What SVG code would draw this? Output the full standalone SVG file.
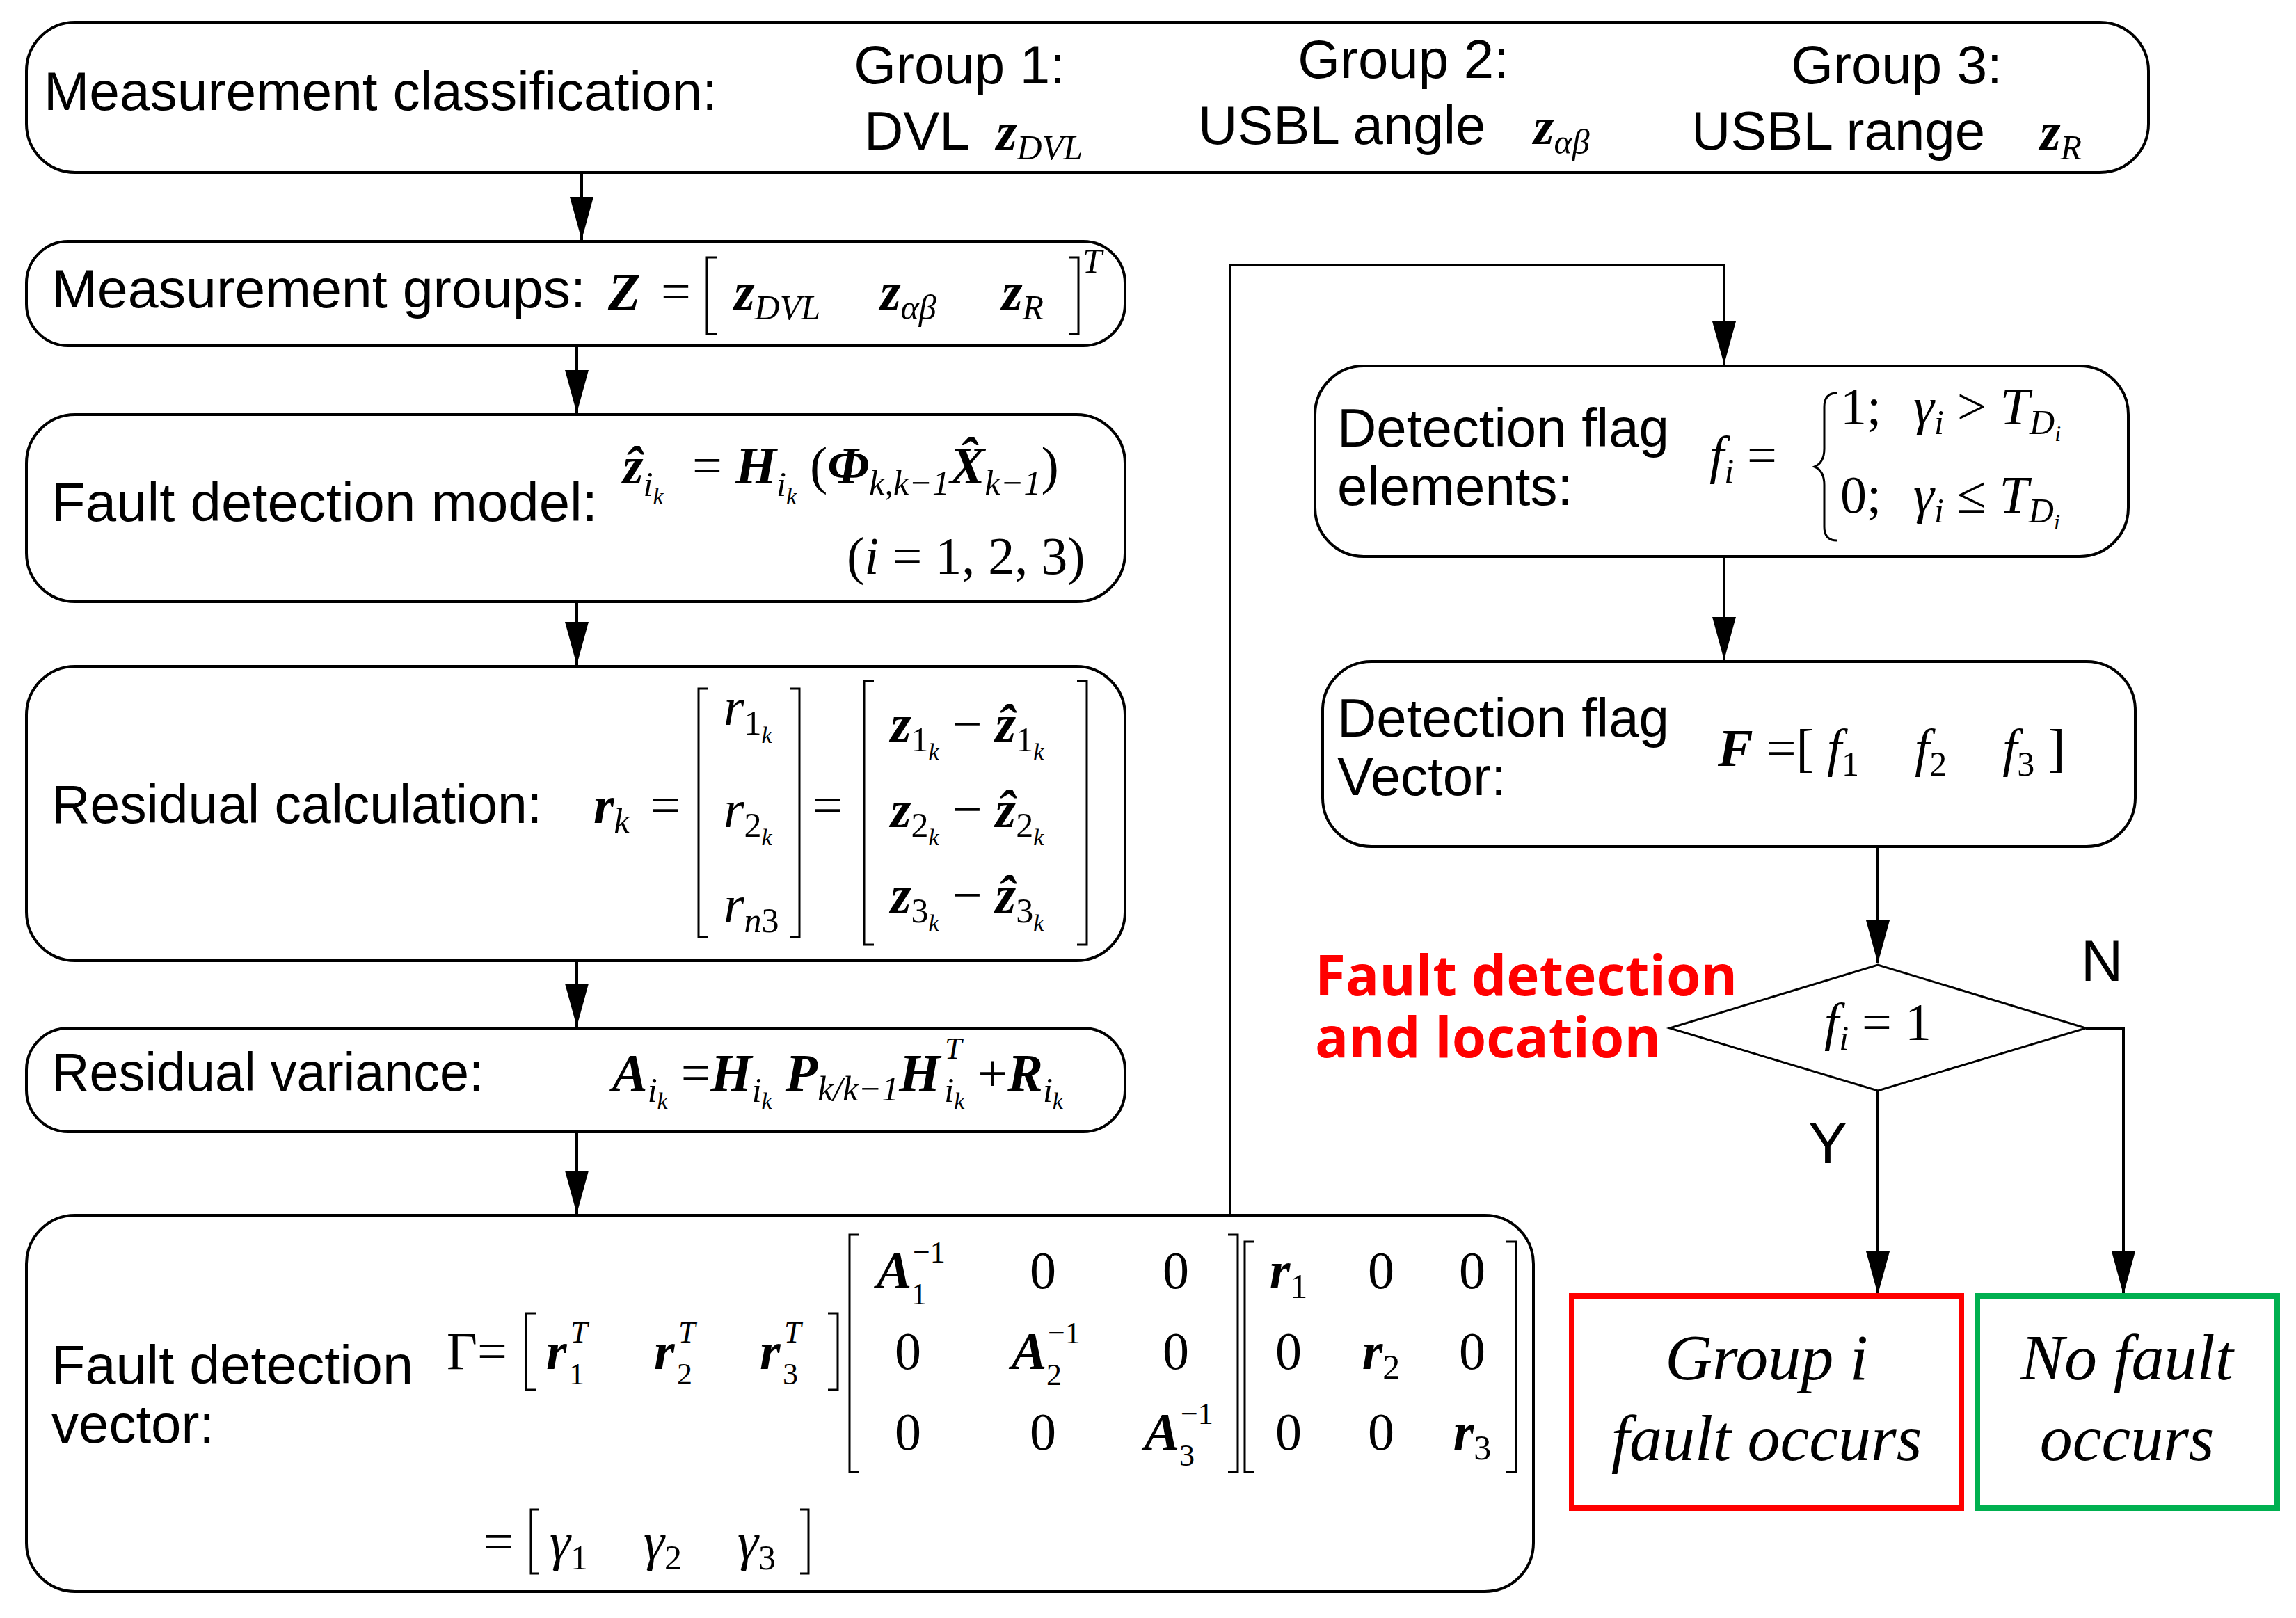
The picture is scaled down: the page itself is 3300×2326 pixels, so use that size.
<svg xmlns="http://www.w3.org/2000/svg" width="3300" height="2326" viewBox="0 0 3300 2326">
<style>
.box{fill:#fff;stroke:#000;stroke-width:4}
.t{font-family:"Liberation Sans",Arial,sans-serif;font-size:78px;fill:#000}
.m{font-family:"Liberation Serif","Times New Roman",serif;font-size:76px;fill:#000}
.mb{font-family:"Liberation Serif","Times New Roman",serif;font-size:76px;font-style:italic;font-weight:bold}
.mi{font-style:italic}
.s{font-size:50px}
.ss{font-family:"Liberation Serif","Times New Roman",serif;font-size:44px}
.br{fill:none;stroke:#000;stroke-width:3}
.ln{fill:none;stroke:#000;stroke-width:4}
.lbl{font-family:"Liberation Sans",Arial,sans-serif;font-size:84px}
.res{font-family:"Liberation Serif","Times New Roman",serif;font-style:italic;font-size:94px;text-anchor:middle}
</style>
<rect width="3300" height="2326" fill="#fff"/>

<g id="connectors">
<line class="ln" x1="836" y1="248" x2="836" y2="345"/>
<line class="ln" x1="829" y1="497" x2="829" y2="594"/>
<line class="ln" x1="829" y1="865" x2="829" y2="956"/>
<line class="ln" x1="829" y1="1381" x2="829" y2="1476"/>
<line class="ln" x1="829" y1="1627" x2="829" y2="1745"/>
<polyline class="ln" points="1768,1747 1768,381 2478,381 2478,524"/>
<line class="ln" x1="2478" y1="800" x2="2478" y2="949"/>
<line class="ln" x1="2699" y1="1217" x2="2699" y2="1385"/>
<polyline class="ln" points="2998,1478 3052,1478 3052,1861"/>
<line class="ln" x1="2699" y1="1568" x2="2699" y2="1861"/>
<g fill="#000">
<path d="M819,283 L853,283 L836,345 Z"/>
<path d="M812,532 L846,532 L829,594 Z"/>
<path d="M812,894 L846,894 L829,956 Z"/>
<path d="M812,1414 L846,1414 L829,1476 Z"/>
<path d="M812,1683 L846,1683 L829,1745 Z"/>
<path d="M2461,462 L2495,462 L2478,524 Z"/>
<path d="M2461,887 L2495,887 L2478,949 Z"/>
<path d="M2682,1323 L2716,1323 L2699,1385 Z"/>
<path d="M2682,1799 L2716,1799 L2699,1861 Z"/>
<path d="M3035,1799 L3069,1799 L3052,1861 Z"/>
</g>
<text class="lbl" x="3021" y="1410" text-anchor="middle">N</text>
<text class="lbl" x="2627" y="1672" text-anchor="middle">Y</text>
</g>

<g id="n1">
<rect class="box" x="38" y="32" width="3050" height="216" rx="70"/>
<text class="t" x="63" y="158" textLength="968" lengthAdjust="spacingAndGlyphs">Measurement classification:</text>
<text class="t" x="1379" y="120" text-anchor="middle">Group 1:</text>
<text class="t" x="1242" y="215">DVL</text>
<text class="mb" x="1432" y="215" font-size="90">z<tspan class="s" font-weight="normal" dy="14">DVL</tspan></text>
<text class="t" x="2017" y="112" text-anchor="middle">Group 2:</text>
<text class="t" x="1722" y="207">USBL angle</text>
<text class="mb" x="2204" y="207" font-size="90">z<tspan class="s" font-weight="normal" dy="14">αβ</tspan></text>
<text class="t" x="2726" y="120" text-anchor="middle">Group 3:</text>
<text class="t" x="2431" y="215">USBL range</text>
<text class="mb" x="2932" y="215" font-size="90">z<tspan class="s" font-weight="normal" dy="14">R</tspan></text>
</g>

<g id="n2">
<rect class="box" x="38" y="347" width="1579" height="150" rx="60"/>
<text class="t" x="74" y="442" textLength="768" lengthAdjust="spacingAndGlyphs">Measurement groups:</text>
<text class="mb" x="874" y="445">Z</text>
<text class="m" x="950" y="445">=</text>
<path class="br" d="M1030,370 h-14 v110 h14"/>
<text class="mb" x="1055" y="445">z<tspan class="s mi" font-weight="normal" dy="14">DVL</tspan></text>
<text class="mb" x="1265" y="445">z<tspan class="s mi" font-weight="normal" dy="14">αβ</tspan></text>
<text class="mb" x="1440" y="445">z<tspan class="s mi" font-weight="normal" dy="14">R</tspan></text>
<path class="br" d="M1536,370 h14 v110 h-14"/>
<text class="m mi s" x="1556" y="392">T</text>
</g>

<g id="n3">
<rect class="box" x="38" y="596" width="1579" height="269" rx="70"/>
<text class="t" x="74" y="749" textLength="785" lengthAdjust="spacingAndGlyphs">Fault detection model:</text>
<text class="mb" x="895" y="695">ẑ<tspan class="s mi" font-weight="normal" dy="18">i</tspan><tspan font-size="34" font-weight="normal" dy="12">k</tspan></text>
<text class="m" x="995" y="695">= <tspan class="mi" font-weight="bold">H</tspan><tspan class="s mi" dy="18">i</tspan><tspan font-size="34" class="mi" dy="12">k</tspan><tspan dy="-30"> (</tspan><tspan class="mi" font-weight="bold">Φ</tspan><tspan class="s mi" dy="16">k,k−1</tspan><tspan class="mi" font-weight="bold" dy="-16">X̂</tspan><tspan class="s mi" dy="16">k−1</tspan><tspan dy="-16">)</tspan></text>
<text class="m" x="1217" y="825">(<tspan class="mi">i</tspan> = 1, 2, 3)</text>
</g>

<g id="n4">
<rect class="box" x="38" y="958" width="1579" height="423" rx="70"/>
<text class="t" x="74" y="1183" textLength="705" lengthAdjust="spacingAndGlyphs">Residual calculation:</text>
<text class="mb" x="853" y="1183">r<tspan class="s mi" font-weight="normal" dy="14">k</tspan></text>
<text class="m" x="935" y="1183">=</text>
<path class="br" d="M1018,990 h-14 v357 h14 M1135,990 h14 v357 h-14"/>
<text class="m mi" x="1040" y="1042">r<tspan class="s" font-style="normal" dy="14">1</tspan><tspan font-size="34" dy="12">k</tspan></text>
<text class="m mi" x="1040" y="1189">r<tspan class="s" font-style="normal" dy="14">2</tspan><tspan font-size="34" dy="12">k</tspan></text>
<text class="m mi" x="1040" y="1326">r<tspan class="s" dy="14">n</tspan><tspan class="s" font-style="normal">3</tspan></text>
<text class="m" x="1168" y="1183">=</text>
<path class="br" d="M1256,979 h-14 v379 h14 M1548,979 h14 v379 h-14"/>
<g class="mb">
<text x="1280" y="1066">z<tspan class="s" font-style="normal" font-weight="normal" dy="14">1</tspan><tspan font-size="34" font-weight="normal" dy="12">k</tspan><tspan font-weight="normal" font-style="normal" dy="-26"> − </tspan>ẑ<tspan class="s" font-style="normal" font-weight="normal" dy="14">1</tspan><tspan font-size="34" font-weight="normal" dy="12">k</tspan></text>
<text x="1280" y="1189">z<tspan class="s" font-style="normal" font-weight="normal" dy="14">2</tspan><tspan font-size="34" font-weight="normal" dy="12">k</tspan><tspan font-weight="normal" font-style="normal" dy="-26"> − </tspan>ẑ<tspan class="s" font-style="normal" font-weight="normal" dy="14">2</tspan><tspan font-size="34" font-weight="normal" dy="12">k</tspan></text>
<text x="1280" y="1312">z<tspan class="s" font-style="normal" font-weight="normal" dy="14">3</tspan><tspan font-size="34" font-weight="normal" dy="12">k</tspan><tspan font-weight="normal" font-style="normal" dy="-26"> − </tspan>ẑ<tspan class="s" font-style="normal" font-weight="normal" dy="14">3</tspan><tspan font-size="34" font-weight="normal" dy="12">k</tspan></text>
</g>
</g>

<g id="n5">
<rect class="box" x="38" y="1478" width="1579" height="149" rx="60"/>
<text class="t" x="74" y="1568" textLength="621" lengthAdjust="spacingAndGlyphs">Residual variance:</text>
<text class="mb" x="880" y="1568">A<tspan class="s" font-weight="normal" dy="16">i</tspan><tspan font-size="34" font-weight="normal" dy="10">k</tspan><tspan font-style="normal" font-weight="normal" dy="-26"> =</tspan>H<tspan class="s" font-weight="normal" dy="16">i</tspan><tspan font-size="34" font-weight="normal" dy="10">k</tspan><tspan dy="-26"> P</tspan><tspan class="s" font-weight="normal" dy="14">k/k−1</tspan><tspan dy="-14">H</tspan><tspan class="s" font-weight="normal" dx="6" dy="16">i</tspan><tspan font-size="34" font-weight="normal" dy="10">k</tspan><tspan font-style="normal" font-weight="normal" dy="-26"> +</tspan>R<tspan class="s" font-weight="normal" dy="16">i</tspan><tspan font-size="34" font-weight="normal" dy="10">k</tspan></text>
<text class="ss mi" x="1358" y="1522">T</text>
</g>

<g id="n6">
<rect class="box" x="38" y="1747" width="2166" height="541" rx="70"/>
<text class="t" x="74" y="1989" textLength="520" lengthAdjust="spacingAndGlyphs">Fault detection</text>
<text class="t" x="74" y="2074">vector:</text>
<text class="m" x="642" y="1968">Γ=</text>
<path class="br" d="M770,1888 h-14 v110 h14 M1190,1888 h14 v110 h-14"/>
<text class="mb" x="785" y="1968">r</text><text class="ss mi" x="820" y="1930">T</text><text class="ss" x="818" y="1990">1</text>
<text class="mb" x="940" y="1968">r</text><text class="ss mi" x="975" y="1930">T</text><text class="ss" x="973" y="1990">2</text>
<text class="mb" x="1092" y="1968">r</text><text class="ss mi" x="1127" y="1930">T</text><text class="ss" x="1125" y="1990">3</text>
<path class="br" d="M1235,1775 h-14 v341 h14 M1765,1775 h14 v341 h-14"/>
<g class="m" text-anchor="middle">
<text class="mb" x="1285" y="1852">A</text>
<text x="1499" y="1852">0</text><text x="1690" y="1852">0</text>
<text x="1305" y="1968">0</text>
<text class="mb" x="1479" y="1968">A</text>
<text x="1690" y="1968">0</text>
<text x="1305" y="2084">0</text><text x="1499" y="2084">0</text>
<text class="mb" x="1670" y="2084">A</text>
</g>
<g class="ss">
<text x="1312" y="1815">−1</text><text x="1310" y="1875">1</text>
<text x="1506" y="1931">−1</text><text x="1504" y="1991">2</text>
<text x="1697" y="2047">−1</text><text x="1695" y="2107">3</text>
</g>
<path class="br" d="M1803,1785 h-14 v331 h14 M2165,1785 h14 v331 h-14"/>
<g class="m" text-anchor="middle">
<text x="1852" y="1852"><tspan class="mi" font-weight="bold">r</tspan><tspan class="s" dy="14">1</tspan></text>
<text x="1985" y="1852">0</text><text x="2116" y="1852">0</text>
<text x="1852" y="1968">0</text>
<text x="1985" y="1968"><tspan class="mi" font-weight="bold">r</tspan><tspan class="s" dy="14">2</tspan></text>
<text x="2116" y="1968">0</text>
<text x="1852" y="2084">0</text><text x="1985" y="2084">0</text>
<text x="2116" y="2084"><tspan class="mi" font-weight="bold">r</tspan><tspan class="s" dy="14">3</tspan></text>
</g>
<text class="m" x="695" y="2242">=</text>
<path class="br" d="M775,2170 h-12 v92 h12 M1150,2170 h12 v92 h-12"/>
<text class="m mi" x="790" y="2242">γ<tspan class="s" font-style="normal" dy="14">1</tspan></text>
<text class="m mi" x="925" y="2242">γ<tspan class="s" font-style="normal" dy="14">2</tspan></text>
<text class="m mi" x="1060" y="2242">γ<tspan class="s" font-style="normal" dy="14">3</tspan></text>
</g>

<g id="n7">
<rect class="box" x="1890" y="526" width="1169" height="274" rx="70"/>
<text class="t" x="1922" y="642">Detection flag</text>
<text class="t" x="1922" y="726">elements:</text>
<text class="m mi" x="2457" y="680">f<tspan class="s" dy="14">i</tspan><tspan font-style="normal" dy="-14"> =</tspan></text>
<path class="br" d="M2640,565 q-18,0 -18,20 v60 q0,20 -14,26 q14,6 14,26 v60 q0,20 18,20"/>
<text class="m" x="2645" y="610">1;<tspan class="mi" x="2750">γ</tspan><tspan class="s mi" dy="14">i</tspan><tspan dy="-14"> &gt; </tspan><tspan class="mi">T</tspan><tspan class="s mi" dy="14">D</tspan><tspan font-size="32" class="mi" dy="10">i</tspan></text>
<text class="m" x="2645" y="737">0;<tspan class="mi" x="2750">γ</tspan><tspan class="s mi" dy="14">i</tspan><tspan dy="-14"> ≤ </tspan><tspan class="mi">T</tspan><tspan class="s mi" dy="14">D</tspan><tspan font-size="32" class="mi" dy="10">i</tspan></text>
</g>

<g id="n8">
<rect class="box" x="1901" y="951" width="1168" height="266" rx="70"/>
<text class="t" x="1922" y="1059">Detection flag</text>
<text class="t" x="1922" y="1143">Vector:</text>
<text class="m" x="2469" y="1101"><tspan class="mi" font-weight="bold">F</tspan> =[ <tspan class="mi">f</tspan><tspan class="s" dy="14">1</tspan><tspan class="mi" dx="80" dy="-14">f</tspan><tspan class="s" dy="14">2</tspan><tspan class="mi" dx="80" dy="-14">f</tspan><tspan class="s" dy="14">3</tspan><tspan dy="-14"> ]</tspan></text>
</g>

<g id="n9">
<polygon points="2400,1478 2699,1387 2998,1478 2699,1568" fill="#fff" stroke="#000" stroke-width="3"/>
<text class="m" x="2699" y="1495" text-anchor="middle"><tspan class="mi">f</tspan><tspan class="s mi" dy="14">i</tspan><tspan dy="-14"> = 1</tspan></text>
<text x="1890" y="1431" font-family="'Open Sans','Liberation Sans',sans-serif" font-weight="bold" font-size="80" fill="#ff0000">Fault detection</text>
<text x="1890" y="1520" font-family="'Open Sans','Liberation Sans',sans-serif" font-weight="bold" font-size="80" fill="#ff0000">and location</text>
</g>

<g id="n10">
<rect x="2259" y="1863" width="560" height="305" fill="#fff" stroke="#ff0000" stroke-width="8"/>
<text class="res" x="2539" y="1983">Group i</text>
<text class="res" x="2539" y="2099">fault occurs</text>
</g>
<g id="n11">
<rect x="2842" y="1863" width="431" height="305" fill="#fff" stroke="#00b050" stroke-width="8"/>
<text class="res" x="3057" y="1983">No fault</text>
<text class="res" x="3057" y="2099">occurs</text>
</g>
</svg>
